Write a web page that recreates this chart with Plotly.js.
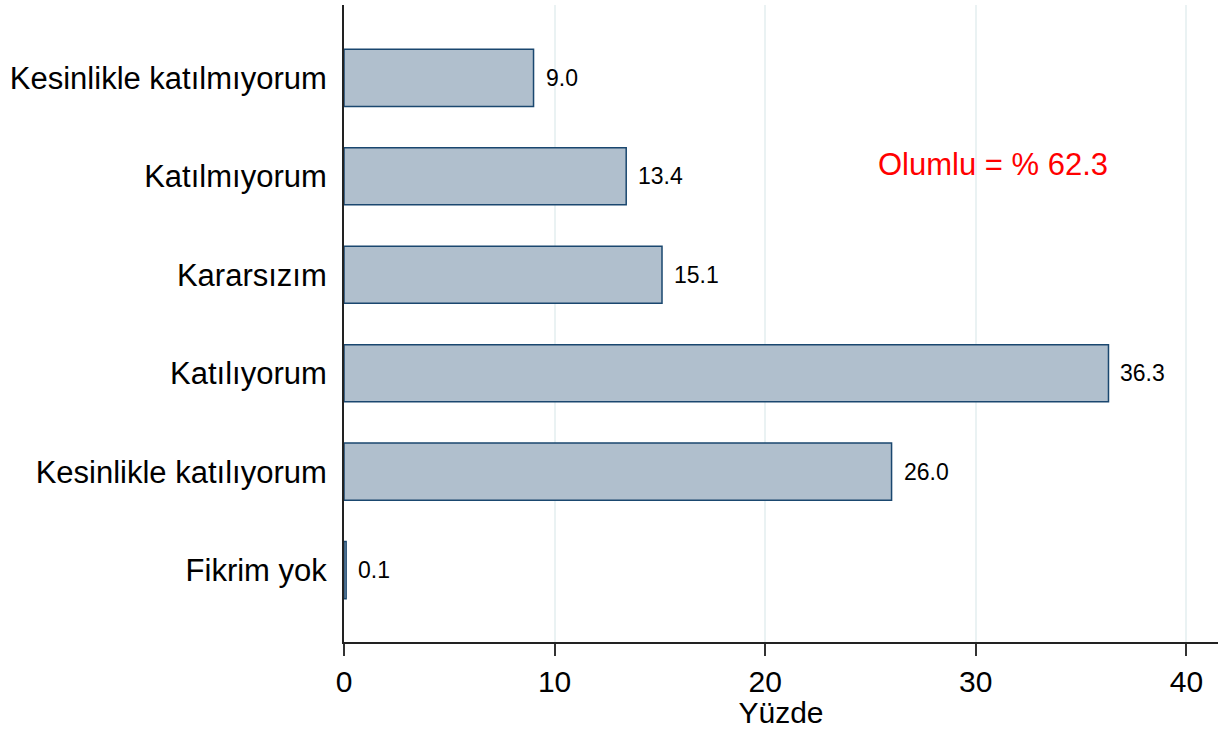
<!DOCTYPE html>
<html><head><meta charset="utf-8">
<script src="https://cdn.plot.ly/plotly-3.0.1.min.js"></script>
<style>body{margin:0;background:#fff}#c{width:1224px;height:729px}</style>
</head><body><div id="c"></div>
<script>
const categories = ["Fikrim yok","Kesinlikle katılıyorum","Katılıyorum","Kararsızım","Katılmıyorum","Kesinlikle katılmıyorum"];
const values = [0.1, 26.0, 36.3, 15.1, 13.4, 9.0];
const xTicks = [0, 10, 20, 30, 40];
const noteText = "Olumlu = % 62.3";

const idx = categories.map((_, i) => i);
const trace = {
  type: 'bar', orientation: 'h', x: values, y: idx,
  width: 0.58,
  marker: {color: 'rgb(176,191,205)', line: {color: '#1a476f', width: 1.5}},
  hoverinfo: 'none'
};
const anns = values.map((v, i) => ({
  x: v, y: i, xref: 'x', yref: 'y', text: v.toFixed(1), showarrow: false,
  xanchor: 'left', xshift: 10, font: {size: 23, color: '#000', family: 'Liberation Sans, Arial, sans-serif'}
}));
anns.push({x: 30.8, y: 4.12, xref: 'x', yref: 'y', text: noteText, showarrow: false,
  xanchor: 'center', font: {size: 31, color: '#ff0000', family: 'Liberation Sans, Arial, sans-serif'}});

const layout = {
  width: 1224, height: 729,
  margin: {l: 344, r: 6, t: 5, b: 87},
  paper_bgcolor: '#fff', plot_bgcolor: '#fff',
  font: {family: 'Liberation Sans, Arial, sans-serif', color: '#000'},
  showlegend: false,
  xaxis: {range: [0, 41.5], tickvals: xTicks, ticktext: xTicks.map(String),
    ticks: 'outside', ticklen: 12, tickwidth: 2, tickcolor: '#333',
    showline: true, linecolor: '#222', linewidth: 2,
    showgrid: true, gridcolor: '#eaf2f3', gridwidth: 2, zeroline: false,
    tickfont: {size: 30}, title: {text: 'Yüzde', font: {size: 30}, standoff: 2}},
  yaxis: {range: [-0.73, 5.74], tickvals: idx, ticktext: categories,
    ticks: '', showline: true, linecolor: '#222', linewidth: 2, showgrid: false, zeroline: false,
    tickfont: {size: 31}, ticklabelstandoff: 9},
  annotations: anns
};
Plotly.newPlot('c', [trace], layout, {displayModeBar: false, staticPlot: true});
</script></body></html>
